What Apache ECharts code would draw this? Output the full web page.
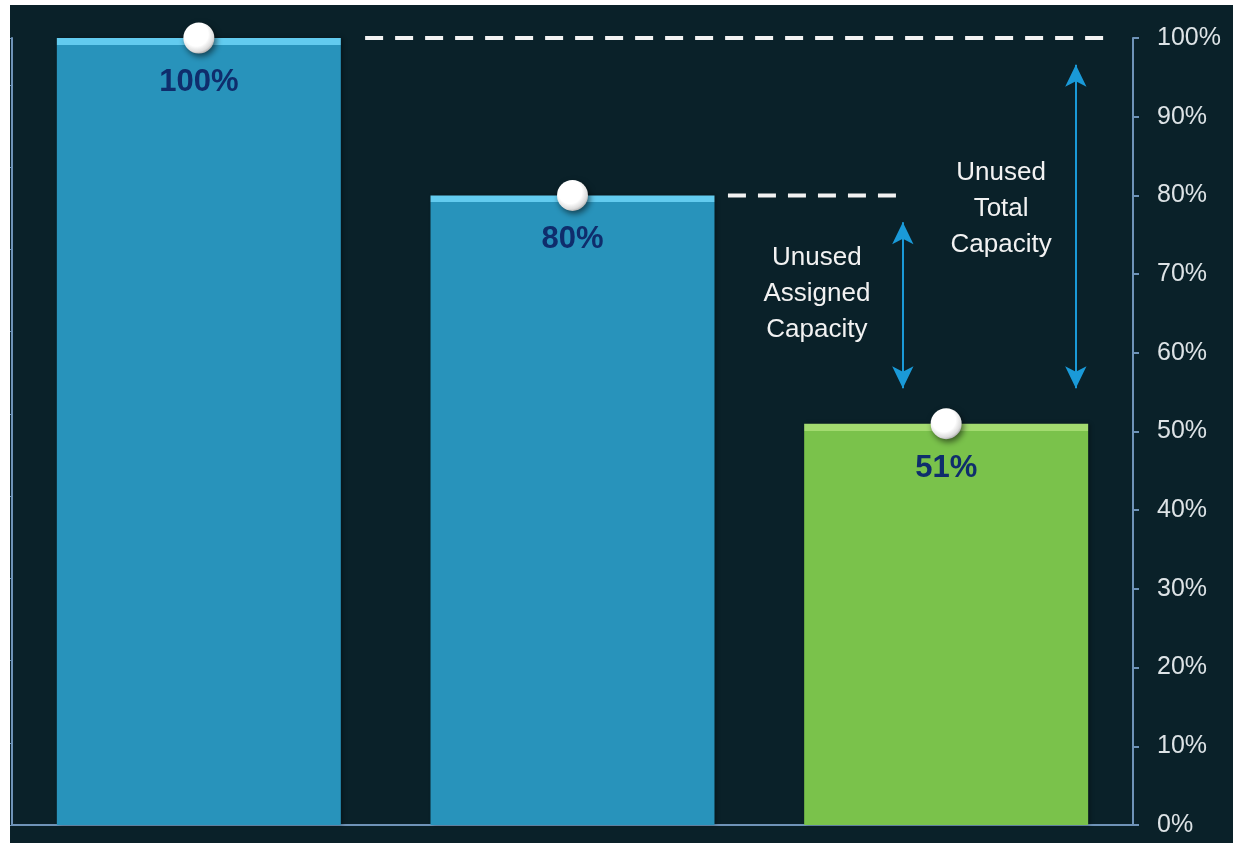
<!DOCTYPE html>
<html><head><meta charset="utf-8">
<script src="https://cdn.jsdelivr.net/npm/echarts@6/dist/echarts.min.js"></script>
<style>
html,body{margin:0;padding:0;background:#ffffff;width:1233px;height:843px;overflow:hidden}
#c{position:absolute;left:10px;top:5px;width:1223px;height:838px;background:#0a2129}
</style></head><body>
<div id="c"></div>
<script>
// categories and values
const categories = ['Total', 'Assigned', 'Used'];
const values = [100, 80, 51];
const yTicks = ['0%','10%','20%','30%','40%','50%','60%','70%','80%','90%','100%'];
// dashed reference lines (x in category-index units, y in %)
const dashTotal = [[0.945, 100], [2.944, 100]];
const dashAssigned = [[1.916, 80], [2.376, 80]];
// double arrows
const arrowAssigned = [[2.384, 76.6], [2.384, 55.5]];
const arrowTotal = [[2.847, 96.6], [2.847, 55.5]];
// annotation texts
const noteAssigned = [2.154, 67.5, 'Unused\nAssigned\nCapacity'];
const noteTotal = [2.647, 78.3, 'Unused\nTotal\nCapacity'];

const FONT = "'Liberation Sans', Arial, sans-serif";
const barColors = [['#62cbef','#2893bb'], ['#62cbef','#2893bb'], ['#a3db70','#7ac24b']];
const pxPerUnit = 7.87;

const chart = echarts.init(document.getElementById('c'));
const barData = values.map((v, i) => {
  const f = Math.min(0.5, 7 / (v * pxPerUnit));
  return {
    value: v,
    itemStyle: {
      color: new echarts.graphic.LinearGradient(0, 0, 0, 1, [
        {offset: 0, color: barColors[i][0]},
        {offset: f, color: barColors[i][0]},
        {offset: f + 0.0001, color: barColors[i][1]},
        {offset: 1, color: barColors[i][1]}
      ]),
      shadowColor: 'rgba(0,0,0,0.35)', shadowBlur: 4, shadowOffsetX: 2
    }
  };
});

const axisLineColor = '#6f93b8';
chart.setOption({
  animation: false,
  grid: {left: 2, right: 100, top: 33, bottom: 18},
  xAxis: [
    {type: 'category', data: categories,
     axisLine: {onZero: false, lineStyle: {color: axisLineColor, width: 2}},
     axisTick: {show: false}, axisLabel: {show: false}},
    {type: 'value', min: 0, max: 3, show: false}
  ],
  yAxis: [
    {type: 'value', position: 'right', min: 0, max: 100, interval: 10,
     axisLine: {show: true, onZero: false, lineStyle: {color: axisLineColor, width: 2}},
     axisTick: {show: true, inside: false, length: 6, lineStyle: {color: axisLineColor, width: 2}},
     splitLine: {show: false},
     axisLabel: {margin: 24, color: '#dde3e6', fontSize: 25, fontFamily: FONT,
       formatter: (v) => yTicks[Math.round(v / 10)]}},
    {type: 'value', position: 'left', min: 0, max: 9.57, interval: 1,
     axisLine: {show: true, onZero: false, lineStyle: {color: axisLineColor, width: 2}},
     axisTick: {show: true, length: 3, lineStyle: {color: axisLineColor, width: 1}},
     splitLine: {show: false}, axisLabel: {show: false}}
  ],
  series: [
    {type: 'bar', data: barData, barWidth: '76%', yAxisIndex: 0, xAxisIndex: 0,
     label: {show: true, position: 'insideTop', distance: 29, color: '#0f2d6c', fontWeight: 'bold',
       fontSize: 31, fontFamily: FONT, formatter: (p) => p.value + '%'}},
    {type: 'line', xAxisIndex: 1, yAxisIndex: 0, data: dashTotal, symbol: 'none',
     lineStyle: {color: '#f2f2f2', width: 4, type: [18, 12]}},
    {type: 'line', xAxisIndex: 1, yAxisIndex: 0, data: dashAssigned, symbol: 'none',
     lineStyle: {color: '#f2f2f2', width: 4, type: [18, 12]}},
    {type: 'line', xAxisIndex: 1, yAxisIndex: 0, data: [],
     markLine: {silent: true, symbol: ['arrow', 'arrow'], symbolSize: [16, 22], label: {show: false},
       lineStyle: {color: '#1a9ad8', width: 2, type: 'solid'},
       data: [
         [{coord: arrowAssigned[0]}, {coord: arrowAssigned[1]}],
         [{coord: arrowTotal[0]}, {coord: arrowTotal[1]}]
       ]}},
    {type: 'scatter', xAxisIndex: 1, yAxisIndex: 0, symbolSize: 0,
     data: [noteAssigned, noteTotal],
     itemStyle: {opacity: 1, color: 'transparent'},
     label: {show: true, position: 'inside', color: '#f2f2f2', fontSize: 26, lineHeight: 36,
       textBorderWidth: 0, textShadowBlur: 0, opacity: 1,
       fontFamily: FONT, align: 'center', verticalAlign: 'middle',
       formatter: (p) => p.data[2]}},
    {type: 'scatter', xAxisIndex: 0, yAxisIndex: 0, symbolSize: 31, z: 5,
     data: values.map((v, i) => [i, v]),
     itemStyle: {
       opacity: 1,
       color: new echarts.graphic.RadialGradient(0.42, 0.38, 0.7, [
         {offset: 0, color: '#ffffff'}, {offset: 0.55, color: '#ffffff'},
         {offset: 0.8, color: '#dcdcdc'}, {offset: 1, color: '#8c8c8c'}
       ]),
       shadowColor: 'rgba(0,0,0,0.55)', shadowBlur: 6, shadowOffsetX: 2, shadowOffsetY: 3
     }}
  ]
});
</script>
</body></html>
